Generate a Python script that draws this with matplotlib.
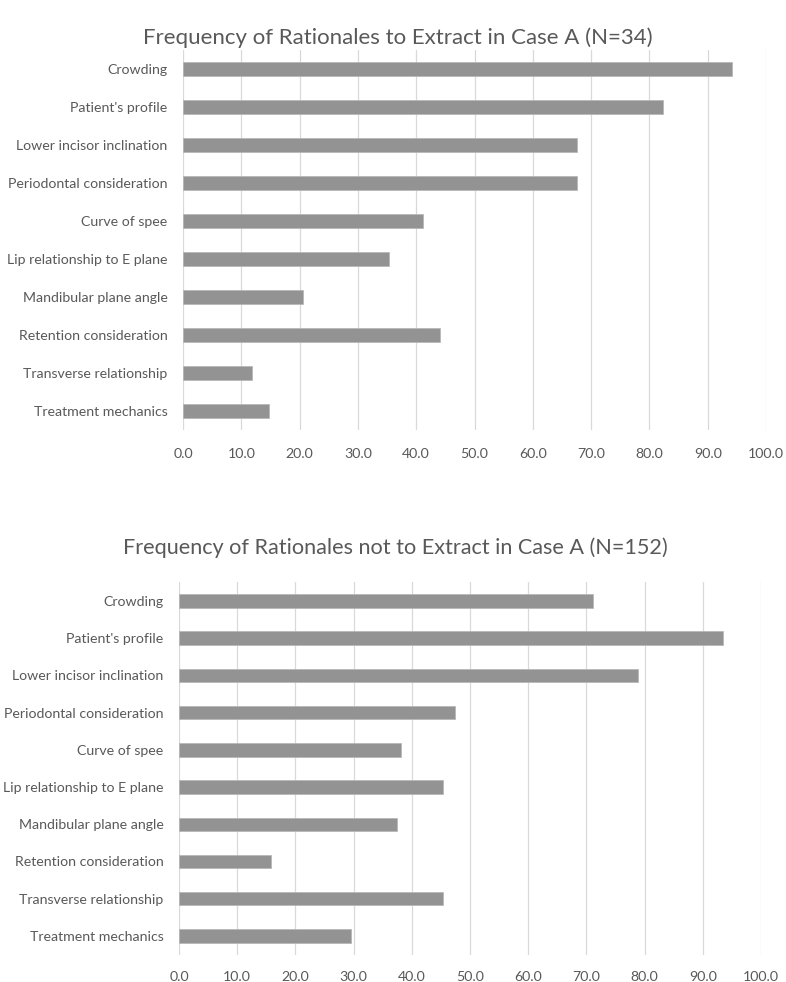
import matplotlib
matplotlib.use('Agg')
import matplotlib.pyplot as plt

plt.rcParams['font.family'] = ['Lato', 'DejaVu Sans']

rationales = ["Crowding", "Patient's profile", "Lower incisor inclination",
              "Periodontal consideration", "Curve of spee",
              "Lip relationship to E plane", "Mandibular plane angle",
              "Retention consideration", "Transverse relationship",
              "Treatment mechanics"]

# percent of respondents
extract_pct = [94.1, 82.4, 67.6, 67.6, 41.2, 35.3, 20.6, 44.1, 11.8, 14.7]
not_extract_pct = [71.1, 93.4, 78.9, 47.4, 38.2, 45.4, 37.5, 15.8, 45.4, 29.6]

titles = ["Frequency of Rationales to Extract in Case A (N=34)",
          "Frequency of Rationales not to Extract in Case A (N=152)"]
xticks = [0, 10, 20, 30, 40, 50, 60, 70, 80, 90, 100]

text_col = '#595959'
bar_col = '#939393'
grid_col = '#d9d9d9'

fig = plt.figure(figsize=(7.86, 9.82), dpi=100)

axes_rects = [[183 / 786, 0.562, 583 / 786, 0.387],
              [179 / 786, 0.028, 582 / 786, 0.379]]
title_pos = [(398 / 786, 1 - 38 / 982), (395 / 786, 1 - 548 / 982)]
title_sizes = [16, 15.6]
pads = [13, 12]

for rect, vals, title, tpos, tsize, pad in zip(axes_rects,
                                               [extract_pct, not_extract_pct],
                                               titles, title_pos, title_sizes, pads):
    ax = fig.add_axes(rect)
    ypos = range(len(rationales))
    ax.barh(ypos, vals, height=0.36, color=bar_col, edgecolor='#b5b5b5',
            linewidth=0.5, zorder=3)
    ax.set_yticks(list(ypos))
    ax.set_yticklabels(rationales)
    ax.set_ylim(len(rationales) - 0.5, -0.5)
    ax.set_xlim(0, 100)
    ax.set_xticks(xticks)
    ax.set_xticklabels([f"{t:.1f}" for t in xticks])
    ax.grid(axis='x', color=grid_col, linewidth=0.9, zorder=0)
    for s in ax.spines.values():
        s.set_visible(False)
    ax.tick_params(axis='both', length=0, colors=text_col, labelsize=10.2)
    ax.tick_params(axis='x', pad=pad)
    ax.tick_params(axis='y', pad=11)
    fig.text(tpos[0], tpos[1], title, ha='center', va='center',
             fontsize=tsize, color=text_col)

fig.savefig('out.png', dpi=100)
